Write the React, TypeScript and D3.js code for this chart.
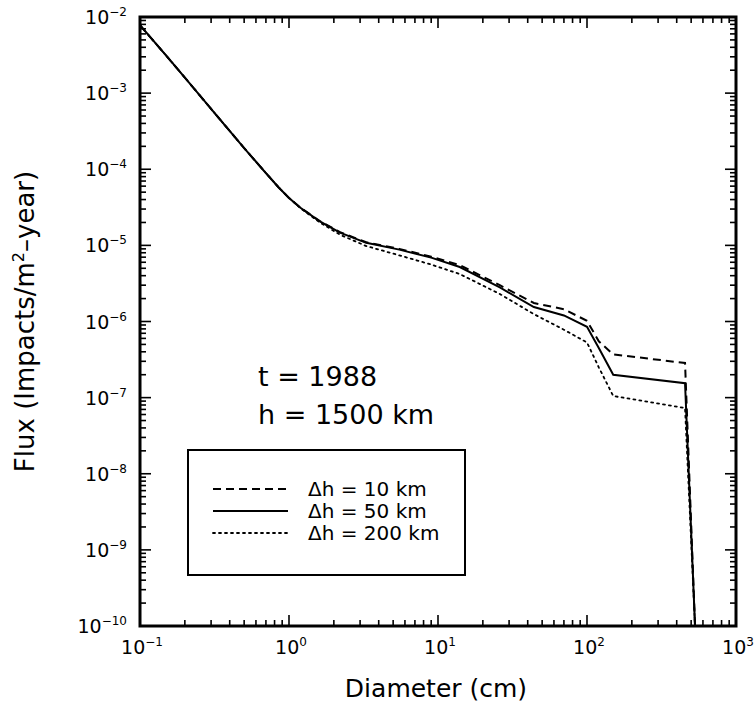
import React, { useEffect, useRef } from 'react';
import * as d3 from 'd3';

// diameters (cm) sampled along the curves
const diameters = [0.1, 0.15, 0.2, 0.3, 0.5, 0.7, 0.85, 1.0, 1.2, 1.6, 2.2, 3.3, 5.5, 9, 14, 26, 44, 70, 100, 120, 150, 455, 531];

const flux10 = [7.8e-3, 3.1e-3, 1.6e-3, 6.2e-4, 1.9e-4, 8.9e-5, 5.8e-5, 4.2e-5, 3.1e-5, 2.1e-5, 1.49e-5, 1.1e-5, 9.0e-6, 7.1e-6, 5.5e-6, 3.0e-6, 1.75e-6, 1.45e-6, 1.02e-6, 5.5e-7, 3.7e-7, 2.85e-7, 1e-10];
const flux50 = [7.8e-3, 3.1e-3, 1.6e-3, 6.2e-4, 1.9e-4, 8.9e-5, 5.8e-5, 4.2e-5, 3.1e-5, 2.08e-5, 1.47e-5, 1.08e-5, 8.8e-6, 6.9e-6, 5.2e-6, 2.8e-6, 1.55e-6, 1.2e-6, 8.5e-7, 4.5e-7, 2.0e-7, 1.55e-7, 1e-10];
const flux200 = [7.8e-3, 3.1e-3, 1.6e-3, 6.2e-4, 1.9e-4, 8.9e-5, 5.8e-5, 4.2e-5, 3.05e-5, 2.02e-5, 1.38e-5, 9.8e-6, 7.4e-6, 5.6e-6, 4.2e-6, 2.3e-6, 1.25e-6, 7.8e-7, 5.3e-7, 2.5e-7, 1.05e-7, 7.3e-8, 1e-10];

const seriesLabels = ['Δh = 10 km', 'Δh = 50 km', 'Δh = 200 km'];
const seriesDash = ['8,5', '', '2,4'];

const xTickExps = [-1, 0, 1, 2, 3];
const yTickExps = [-2, -3, -4, -5, -6, -7, -8, -9, -10];

const FONT = '"DejaVu Sans", Verdana, sans-serif';

const App: React.FC = () => {
    const ref = useRef<SVGSVGElement | null>(null);

    useEffect(() => {
        if (!ref.current) return;
        const svg = d3.select(ref.current);
        svg.selectAll('*').remove();

        const left = 140, right = 736, top = 17, bottom = 626;

        const x = d3.scaleLog().domain([0.1, 1000]).range([left, right]);
        const y = d3.scaleLog().domain([1e-10, 1e-2]).range([bottom, top]);

        svg.append('defs').append('clipPath').attr('id', 'plotclip')
            .append('rect').attr('x', left).attr('y', top)
            .attr('width', right - left).attr('height', bottom - top);

        // minor + major ticks
        const ticks = svg.append('g').attr('stroke', '#000').attr('stroke-width', 1.6);
        for (let e = -1; e < 3; e++) {
            for (let m = 1; m <= 9; m++) {
                const v = m * Math.pow(10, e);
                const len = m === 1 ? 11 : 6;
                ticks.append('line').attr('x1', x(v)).attr('x2', x(v)).attr('y1', bottom).attr('y2', bottom - len);
                ticks.append('line').attr('x1', x(v)).attr('x2', x(v)).attr('y1', top).attr('y2', top + len);
            }
        }
        for (let e = -10; e < -2; e++) {
            for (let m = 1; m <= 9; m++) {
                const v = m * Math.pow(10, e);
                const len = m === 1 ? 11 : 6;
                ticks.append('line').attr('x1', left).attr('x2', left + len).attr('y1', y(v)).attr('y2', y(v));
                ticks.append('line').attr('x1', right).attr('x2', right - len).attr('y1', y(v)).attr('y2', y(v));
            }
        }

        // frame
        svg.append('rect')
            .attr('x', left).attr('y', top)
            .attr('width', right - left).attr('height', bottom - top)
            .attr('fill', 'none').attr('stroke', '#000').attr('stroke-width', 3);

        // tick labels
        const yl = svg.append('g').attr('font-family', FONT).attr('fill', '#000');
        yTickExps.forEach((e) => {
            const t = yl.append('text')
                .attr('x', 127).attr('y', y(Math.pow(10, e)) + 7)
                .attr('text-anchor', 'end').attr('font-size', 19);
            t.append('tspan').text('10');
            t.append('tspan').attr('dy', -8).attr('font-size', 12).text('−' + Math.abs(e));
        });
        xTickExps.forEach((e) => {
            const t = yl.append('text')
                .attr('x', x(Math.pow(10, e)) + 2).attr('y', bottom + 28)
                .attr('text-anchor', 'middle').attr('font-size', 19);
            t.append('tspan').text('10');
            t.append('tspan').attr('dy', -8).attr('font-size', 12).text(e < 0 ? '−' + Math.abs(e) : String(e));
        });

        // axis titles
        svg.append('text')
            .attr('x', 436).attr('y', 697)
            .attr('text-anchor', 'middle').attr('font-family', FONT).attr('font-size', 25)
            .text('Diameter (cm)');
        const yt = svg.append('text')
            .attr('transform', `translate(34, ${(top + bottom) / 2}) rotate(-90)`)
            .attr('text-anchor', 'middle').attr('font-family', FONT).attr('font-size', 26);
        yt.append('tspan').text('Flux (Impacts/m');
        yt.append('tspan').attr('dy', -10).attr('font-size', 16).text('2');
        yt.append('tspan').attr('dy', 10).text('–year)');

        // curves
        const allSeries = [flux10, flux50, flux200];
        const line = d3.line<number>()
            .x((_, i) => x(diameters[i]))
            .y((d) => y(d));
        const curves = svg.append('g').attr('clip-path', 'url(#plotclip)');
        allSeries.forEach((s, i) => {
            curves.append('path')
                .datum(s)
                .attr('d', line)
                .attr('fill', 'none')
                .attr('stroke', '#000')
                .attr('stroke-width', i === 2 ? 1.8 : 2)
                .attr('stroke-dasharray', seriesDash[i] || null)
                .attr('stroke-linecap', i === 2 ? 'round' : 'butt');
        });

        // annotations
        svg.append('text').attr('x', 258).attr('y', 386)
            .attr('font-family', FONT).attr('font-size', 27).text('t = 1988');
        svg.append('text').attr('x', 258).attr('y', 424)
            .attr('font-family', FONT).attr('font-size', 27).text('h = 1500 km');

        // legend
        const lg = svg.append('g');
        lg.append('rect').attr('x', 188).attr('y', 450).attr('width', 277).attr('height', 125)
            .attr('fill', '#fff').attr('stroke', '#000').attr('stroke-width', 2);
        seriesLabels.forEach((lab, i) => {
            const yy = 489 + i * 22;
            lg.append('line').attr('x1', 213).attr('x2', 288).attr('y1', yy).attr('y2', yy)
                .attr('stroke', '#000').attr('stroke-width', i === 2 ? 1.8 : 2)
                .attr('stroke-dasharray', seriesDash[i] || null)
                .attr('stroke-linecap', i === 2 ? 'round' : 'butt');
            lg.append('text').attr('x', 308).attr('y', yy + 7)
                .attr('font-family', FONT).attr('font-size', 20).text(lab);
        });
    }, []);

    return (
        <svg ref={ref} width={754} height={706} style={{ position: 'absolute', left: 0, top: 0, background: '#fff' }} />
    );
};

export default App;
